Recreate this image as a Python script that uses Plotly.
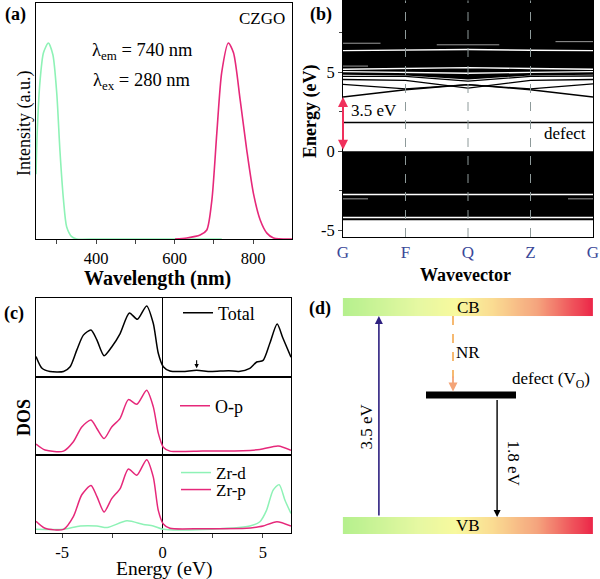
import numpy as np
import plotly.graph_objects as go

FONT = "Liberation Serif"

# ---------------- (a) PL spectra ----------------
ex_wl = [247, 250, 257, 266, 278.5, 290, 300, 308, 317, 325, 338, 351, 400, 500, 600, 720]
ex_int = [0.33, 0.54, 0.80, 0.95, 1.0, 0.94, 0.74, 0.45, 0.20, 0.063, 0.012, 0, 0, 0, 0, 0]
em_wl = [601, 631, 665, 682, 695, 707.5, 720, 737, 750, 767, 784, 801, 818, 835, 852, 899]
em_int = [0, 0.005, 0.02, 0.046, 0.20, 0.54, 0.85, 1.0, 0.95, 0.71, 0.45, 0.23, 0.097, 0.03, 0.005, 0]

# ---------------- (b) band structure ----------------
kpts = [0, 1, 2, 3, 4]
klabels = ["G", "F", "Q", "Z", "G"]
vb_top_edge = [0, 0, 0, 0, 0]
vb_bottom_edge = [-4.37, -4.37, -4.37, -4.37, -4.37]
cb_low_edge = [4.85, 4.8, 4.55, 4.8, 4.85]
cb_top_edge = [9.6, 9.6, 9.6, 9.6, 9.6]
cb_lines = [
    [3.44, 3.90, 4.22, 3.90, 3.44],
    [4.24, 3.95, 4.22, 3.95, 4.27],
    [4.55, 4.50, 4.00, 4.50, 4.55],
    [4.75, 4.75, 4.45, 4.75, 4.77],
]
defect_level = [1.83, 1.83, 1.83, 1.83, 1.83]
# bright white gaps inside the dense band regions
white_k = [[0, 4], [0, 4], [0, 1, 2, 3, 4], [0, 1, 2, 3, 4], [0, 1, 2, 3, 4]]
white_E = [[-2.74, -2.74], [-4.2, -4.2],
           [6.38, 6.40, 6.45, 6.40, 6.38], [5.20, 5.25, 5.30, 5.25, 5.20], [5.05, 5.00, 4.95, 5.00, 5.05]]
# faint partial gaps
faint_k = [[0, 0.4], [3.6, 4], [0, 0.6], [1.5, 2.5], [3.4, 4], [0, 0.4]]
faint_E = [[-3.02, -3.02], [-3.02, -3.02], [6.85, 6.85], [6.75, 6.75], [6.95, 6.95], [5.4, 5.4]]
gap_eV = 3.44

# ---------------- (c) DOS ----------------
E_total = [-6.3, -6.0, -5.6, -4.93, -4.6, -4.27, -3.94, -3.56, -3.27, -2.91, -2.53, -2.11, -1.65, -1.25,
           -0.79, -0.46, -0.21, 0.04, 0.37, 1.0, 1.7, 2.4, 3.3, 3.8, 4.35, 4.69, 5.01, 5.35, 5.71, 6.0, 6.4]
dos_total = [0.26, 0.11, 0.07, 0.07, 0.13, 0.34, 0.53, 0.595, 0.47, 0.27, 0.38, 0.55, 0.81, 0.73,
             0.90, 0.68, 0.30, 0.13, 0.076, 0.07, 0.085, 0.07, 0.08, 0.07, 0.11, 0.19, 0.21, 0.43, 0.67, 0.49, 0.25]
E_op = [-6.3, -5.85, -4.93, -4.44, -4.02, -3.56, -3.27, -2.91, -2.53, -2.11, -1.7, -1.28, -0.79, -0.46,
        -0.21, 0.04, 0.37, 2.0, 4.0, 4.85, 5.76, 6.4]
dos_op = [0.14, 0.064, 0.05, 0.17, 0.36, 0.45, 0.34, 0.21, 0.36, 0.47, 0.71, 0.65, 0.83, 0.62,
          0.28, 0.10, 0.05, 0.05, 0.055, 0.07, 0.115, 0.06]
E_zrp = [-6.3, -5.85, -4.93, -4.44, -4.02, -3.56, -3.27, -2.91, -2.53, -2.11, -1.7, -1.28, -0.79, -0.46,
         -0.21, 0.04, 0.37, 2.0, 4.19, 4.8, 5.01, 5.7, 6.4]
dos_zrp = [0.15, 0.06, 0.047, 0.21, 0.49, 0.61, 0.47, 0.27, 0.44, 0.57, 0.82, 0.74, 0.94, 0.72,
           0.29, 0.115, 0.06, 0.055, 0.06, 0.08, 0.09, 0.145, 0.09]
E_zrd = [-6.3, -4.93, -4.1, -3.27, -2.75, -1.77, -0.95, -0.46, 0.04, 2.0, 4.35, 4.85, 5.18, 5.51, 5.81, 6.1, 6.4]
dos_zrd = [0.047, 0.047, 0.09, 0.09, 0.07, 0.157, 0.11, 0.09, 0.047, 0.045, 0.09, 0.145, 0.29, 0.55, 0.62, 0.42, 0.25]
defect_marker_E = 1.7

# ---------------- (d) schematic levels ----------------
CB_level = [3.5, 3.815]
VB_level = [-0.296, 0.0]
defect_bar_E = 2.125
bar_x = [0.143, 0.977]
defect_x = [0.42, 0.72]
excite_x = 0.263
nr_x = 0.51
emit_x = 0.657

GREEN = "#8ef2b6"
PINK = "#e6287a"

fig = go.Figure()

def spl(x, y, color, xa, ya, name=None, legend=None, show=False, width=1.6):
    fig.add_trace(go.Scatter(x=x, y=y, mode="lines", line=dict(color=color, width=width, shape="spline", smoothing=0.7),
                             xaxis=xa, yaxis=ya, name=name, showlegend=show, legend=legend, hoverinfo="skip"))

# (a)
spl(ex_wl, ex_int, GREEN, "x", "y")
spl(em_wl, em_int, PINK, "x", "y")

# (b) fills
fig.add_trace(go.Scatter(x=kpts + kpts[::-1], y=vb_top_edge + vb_bottom_edge[::-1], fill="toself",
                         fillcolor="black", line=dict(width=0), mode="lines", xaxis="x2", yaxis="y2",
                         showlegend=False, hoverinfo="skip"))
fig.add_trace(go.Scatter(x=kpts + kpts[::-1], y=cb_low_edge + cb_top_edge[::-1], fill="toself",
                         fillcolor="black", line=dict(width=0), mode="lines", xaxis="x2", yaxis="y2",
                         showlegend=False, hoverinfo="skip"))
for kk, ee in zip(white_k, white_E):
    fig.add_trace(go.Scatter(x=kk, y=ee, mode="lines", line=dict(color="white", width=1.4),
                             xaxis="x2", yaxis="y2", showlegend=False, hoverinfo="skip"))
for kk, ee in zip(faint_k, faint_E):
    fig.add_trace(go.Scatter(x=kk, y=ee, mode="lines", line=dict(color="#9a9a9a", width=1),
                             xaxis="x2", yaxis="y2", showlegend=False, hoverinfo="skip"))
for band in cb_lines:
    fig.add_trace(go.Scatter(x=kpts, y=band, mode="lines", line=dict(color="black", width=1.3),
                             xaxis="x2", yaxis="y2", showlegend=False, hoverinfo="skip"))
fig.add_trace(go.Scatter(x=kpts, y=defect_level, mode="lines", line=dict(color="black", width=1.5),
                         xaxis="x2", yaxis="y2", showlegend=False, hoverinfo="skip"))
for k in kpts[1:-1]:
    fig.add_shape(type="line", xref="x2", yref="y2 domain", x0=k, x1=k, y0=0, y1=1,
                  line=dict(color="#8e9a9a", width=1, dash="dash"), layer="above")

# (c)
spl(E_total, dos_total, "black", "x3", "y3", name="Total", legend="legend", show=True, width=1.5)
spl(E_op, dos_op, PINK, "x4", "y4", name="O-p", legend="legend2", show=True, width=1.5)
spl(E_zrd, dos_zrd, GREEN, "x5", "y5", name="Zr-d", legend="legend3", show=True, width=1.5)
spl(E_zrp, dos_zrp, PINK, "x5", "y5", name="Zr-p", legend="legend4", show=True, width=1.5)

# (d) gradient bars
grad_scale = [[0, "#b6f08e"], [0.3, "#e6f8a2"], [0.45, "#f8f99e"], [0.6, "#fadc92"],
              [0.78, "#f5a47e"], [1, "#ec284a"]]
xe = np.linspace(bar_x[0], bar_x[1], 81)
zrow = [list(np.linspace(0, 1, 80))]
for lev in (CB_level, VB_level):
    fig.add_trace(go.Heatmap(x=xe, y=lev, z=zrow, colorscale=grad_scale, zmin=0, zmax=1,
                             showscale=False, xaxis="x6", yaxis="y6", hoverinfo="skip", zsmooth="best"))
fig.add_trace(go.Scatter(x=defect_x, y=[defect_bar_E, defect_bar_E], mode="lines",
                         line=dict(color="black", width=7), xaxis="x6", yaxis="y6",
                         showlegend=False, hoverinfo="skip"))
fig.add_trace(go.Scatter(x=[nr_x, nr_x], y=[CB_level[0], defect_bar_E + 0.3], mode="lines",
                         line=dict(color="#f6b262", width=1.8, dash="dash"), xaxis="x6", yaxis="y6",
                         showlegend=False, hoverinfo="skip"))

ann = []
def txt(x, y, s, xref="paper", yref="paper", size=17, bold=False, color="black", angle=0, xanchor="center"):
    if bold:
        s = "<b>" + s + "</b>"
    ann.append(dict(x=x, y=y, xref=xref, yref=yref, text=s, showarrow=False, textangle=angle,
                    font=dict(family=FONT, size=size, color=color), xanchor=xanchor, yanchor="middle"))

W, H = 600.0, 579.0
def px(x): return x / W
def py(y): return 1 - y / H

# panel labels
txt(px(15), py(15), "(a)", bold=True, size=18)
txt(px(321), py(15), "(b)", bold=True, size=18)
txt(px(14), py(313), "(c)", bold=True, size=18)
txt(px(320), py(308), "(d)", bold=True, size=18)
# axis titles
txt(px(25), py(124), "Intensity (a.u.)", angle=-90, size=18)
txt(px(157), py(278), "Wavelength (nm)", bold=True, size=20)
txt(px(311), py(112), "Energy (eV)", bold=True, angle=-90, size=18)
txt(px(466), py(275), "Wavevector", bold=True, size=18)
txt(px(24), py(418), "DOS", bold=True, angle=-90, size=18)
txt(px(164), py(569), "Energy (eV)", size=19.5)
# panel (a) texts
txt(px(262), py(18), "CZGO", size=17)
txt(px(142), py(52), "λ<sub>em</sub> = 740 nm", size=18.5)
txt(px(142), py(81), "λ<sub>ex</sub> = 280 nm", size=18.5)
# panel (b) texts
txt(0.5, 2.6, "3.5 eV", xref="x2", yref="y2", size=17)
txt(3.55, 1.15, "defect", xref="x2", yref="y2", size=17)
ann.append(dict(x=0, y=gap_eV, ax=0, ay=0, xref="x2", yref="y2", axref="x2", ayref="y2",
                showarrow=True, arrowhead=2, arrowside="end+start", arrowsize=1, arrowwidth=2,
                arrowcolor="#f0305c", text=""))
# panel (c) defect arrow
ann.append(dict(x=defect_marker_E, y=0.11, ax=defect_marker_E, ay=0.23, xref="x3", yref="y3",
                axref="x3", ayref="y3", showarrow=True, arrowhead=2, arrowsize=0.8, arrowwidth=1.1,
                arrowcolor="black", text=""))
# panel (d) texts and arrows
txt(0.56, sum(CB_level) / 2, "CB", xref="x6", yref="y6", size=17)
txt(0.56, sum(VB_level) / 2, "VB", xref="x6", yref="y6", size=17)
txt(0.56, 2.87, "NR", xref="x6", yref="y6", size=17)
txt(0.835, 2.39, "defect (V<sub>O</sub>)", xref="x6", yref="y6", size=17)
txt(0.222, 1.57, "3.5 eV", xref="x6", yref="y6", size=17, angle=-90)
txt(0.712, 0.94, "1.8 eV", xref="x6", yref="y6", size=17, angle=90)
ann.append(dict(x=excite_x, y=CB_level[0], ax=excite_x, ay=VB_level[1], xref="x6", yref="y6",
                axref="x6", ayref="y6", showarrow=True, arrowhead=2, arrowsize=1, arrowwidth=1.6,
                arrowcolor="#2e2080", text=""))
ann.append(dict(x=emit_x, y=VB_level[1], ax=emit_x, ay=defect_bar_E - 0.06, xref="x6", yref="y6",
                axref="x6", ayref="y6", showarrow=True, arrowhead=2, arrowsize=1, arrowwidth=1.4,
                arrowcolor="black", text=""))
ann.append(dict(x=nr_x, y=defect_bar_E + 0.06, ax=nr_x, ay=defect_bar_E + 0.35, xref="x6", yref="y6",
                axref="x6", ayref="y6", showarrow=True, arrowhead=2, arrowsize=1, arrowwidth=1.8,
                arrowcolor="#f4a478", text=""))

box = dict(showline=True, linecolor="black", linewidth=1, mirror=True, showgrid=False, zeroline=False,
           automargin=False)
tickf = dict(family=FONT, size=16.5, color="black")

def leg(x, y, size=18):
    return dict(x=px(x), y=py(y), xanchor="left", yanchor="middle", bgcolor="rgba(0,0,0,0)",
                font=dict(family=FONT, size=size, color="black"), itemwidth=30, tracegroupgap=0)

layout = dict(
    width=600, height=579, margin=dict(l=0, r=0, t=0, b=0, autoexpand=False),
    paper_bgcolor="white", plot_bgcolor="white", showlegend=True,
    annotations=ann,
    xaxis=dict(domain=[px(36), px(292)], range=[247, 899], anchor="y", tickvals=[400, 600, 800],
               ticks="outside", ticklen=4, tickfont=tickf,
               minor=dict(tickvals=[300, 500, 700], ticks="outside", ticklen=4), **box),
    yaxis=dict(domain=[py(239), py(3)], range=[0, 1.204], anchor="x", showticklabels=False, ticks="", **box),
    xaxis2=dict(domain=[px(343), px(593)], range=[0, 4], anchor="y2", tickvals=kpts, ticktext=klabels,
                ticks="", tickfont=dict(family=FONT, size=17, color="#3a4898"), **box),
    yaxis2=dict(domain=[py(237), py(0.5)], range=[-5.44, 9.56], anchor="x2", tickvals=[-5, 0, 5],
                ticktext=["-5", "0", "5"], ticks="outside", ticklen=4, tickfont=tickf,
                minor=dict(dtick=2.5, tick0=0, ticks="outside", ticklen=3), **box),
    legend=leg(178, 313),
    legend2=leg(175, 406),
    legend3=leg(176, 473, 17),
    legend4=leg(176, 490, 17),
    xaxis6=dict(domain=[0.5, 1.0], range=[0, 1], anchor="y6", visible=False, automargin=False),
    yaxis6=dict(domain=[0, py(280)], range=[-(579 - 517) / 57.4, (517 - 280) / 57.4], anchor="x6",
                visible=False, automargin=False),
)
c_doms = [[py(377), py(298)], [py(455), py(377)], [py(533), py(455)]]
for i, dom in enumerate(c_doms):
    n = i + 3
    xa = dict(domain=[px(36), px(291)], range=[-6.3, 6.4], anchor="y%d" % n,
              zeroline=True, zerolinecolor="black", zerolinewidth=1, automargin=False,
              showline=True, linecolor="black", linewidth=1, mirror=True, showgrid=False)
    if n == 5:
        xa.update(tickvals=[-5, 0, 5], ticktext=["-5", "0", "5"], ticks="outside", ticklen=4, tickfont=tickf,
                  minor=dict(dtick=2.5, tick0=0, ticks="outside", ticklen=4))
    else:
        xa.update(showticklabels=False, ticks="")
    layout["xaxis%d" % n] = xa
    layout["yaxis%d" % n] = dict(domain=dom, range=[0, 1], anchor="x%d" % n, showticklabels=False,
                                 ticks="", **box)

fig.update_layout(**layout)
fig.write_html("out.html", config={"displayModeBar": False},
               post_script="document.body.style.margin='0';document.body.style.overflow='hidden';")
